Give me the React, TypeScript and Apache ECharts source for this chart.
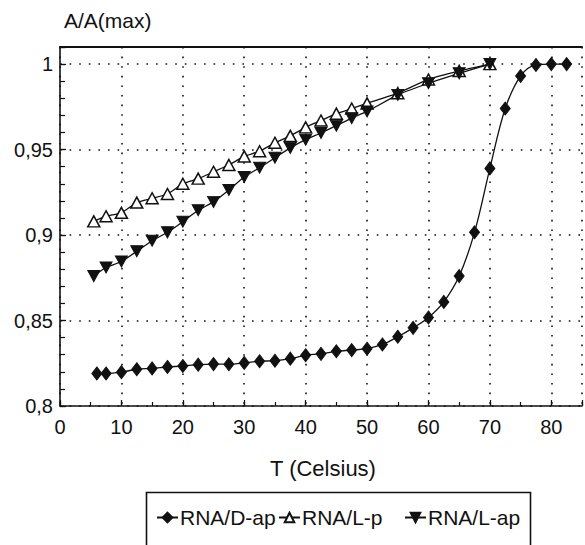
import React, { useEffect, useRef } from 'react';
import * as echarts from 'echarts';

// Temperatures (°C)
const T_DAP = [6, 7.5, 10, 12.5, 15, 17.5, 20, 22.5, 25, 27.5, 30, 32.5, 35, 37.5, 40, 42.5, 45, 47.5, 50, 52.5, 55, 57.5, 60, 62.5, 65, 67.5, 70, 72.5, 75, 77.5, 80, 82.5];
const A_DAP = [0.819, 0.819, 0.8198, 0.8215, 0.822, 0.8228, 0.8234, 0.8242, 0.8245, 0.8244, 0.8252, 0.8262, 0.8265, 0.8277, 0.8297, 0.8305, 0.832, 0.8327, 0.8335, 0.836, 0.8405, 0.8457, 0.8518, 0.8609, 0.876, 0.9016, 0.939, 0.974, 0.993, 0.9995, 1.0, 1.0];

const T_L = [5.5, 7.5, 10, 12.5, 15, 17.5, 20, 22.5, 25, 27.5, 30, 32.5, 35, 37.5, 40, 42.5, 45, 47.5, 50, 55, 60, 65, 70];
const A_LP = [0.908, 0.911, 0.913, 0.919, 0.9215, 0.924, 0.93, 0.933, 0.937, 0.941, 0.946, 0.949, 0.954, 0.958, 0.963, 0.967, 0.971, 0.974, 0.977, 0.983, 0.991, 0.996, 1.0];
const A_LAP = [0.876, 0.881, 0.8845, 0.8905, 0.8967, 0.9016, 0.9078, 0.9145, 0.9194, 0.9264, 0.934, 0.9394, 0.9452, 0.951, 0.9558, 0.9597, 0.964, 0.9684, 0.9723, 0.982, 0.9888, 0.9946, 1.0];

const NAMES = ['RNA/D-ap', 'RNA/L-p', 'RNA/L-ap'];
const Y_TITLE = 'A/A(max)';
const X_TITLE = 'T (Celsius)';

const FONT = '"Liberation Sans", Arial, Helvetica, sans-serif';
const INK = '#111';

const pairs = (xs: number[], ys: number[]) => xs.map((x, i) => [x, ys[i]]);

export default function App() {
  const ref = useRef<HTMLDivElement>(null);
  useEffect(() => {
    const chart = echarts.init(ref.current!, null, { renderer: 'svg' });
    const dotted = { color: INK, width: 1.6, type: [1.6, 8] as any };
    const legendBase = {
      top: 507,
      itemWidth: 21,
      itemHeight: 12,
      itemGap: 0,
      textStyle: { fontSize: 21, color: INK, fontFamily: FONT, padding: [0, 0, 0, -3] },
      padding: 0,
    };
    chart.setOption({
      animation: false,
      backgroundColor: '#fff',
      textStyle: { fontFamily: FONT },
      grid: { left: 60, right: -8, top: 47, bottom: 139 },
      xAxis: [
        {
          type: 'value', min: 0, max: 85, interval: 10, position: 'bottom',
          axisLine: { show: true, lineStyle: { color: INK, width: 1.6 } },
          axisTick: { show: true, inside: true, length: 6, lineStyle: { color: INK, width: 1.2 } },
          axisLabel: {
            fontSize: 20, color: INK, fontFamily: FONT, margin: 11,
            formatter: (v: number) => (v % 10 === 0 && v <= 80 ? String(v) : ''),
          },
          splitLine: { show: true, lineStyle: dotted },
        },
        {
          type: 'value', min: 0, max: 85, interval: 5, position: 'bottom',
          axisLine: { show: false },
          axisTick: { show: true, inside: true, length: 4, lineStyle: { color: INK, width: 1.2 } },
          axisLabel: { show: false },
          splitLine: { show: false },
        },
        {
          type: 'value', min: 0, max: 85, position: 'top',
          axisLine: { show: true, lineStyle: { color: INK, width: 2 } },
          axisTick: { show: false }, axisLabel: { show: false }, splitLine: { show: false },
        },
      ],
      yAxis: [
        {
          type: 'value', min: 0.8, max: 1.01, interval: 0.05, position: 'left',
          axisLine: { show: true, lineStyle: { color: INK, width: 1.6 } },
          axisTick: { show: true, inside: true, length: 6, lineStyle: { color: INK, width: 1.2 } },
          axisLabel: {
            fontSize: 20, color: INK, fontFamily: FONT, margin: 7,
            formatter: (v: number) => (v > 1.005 ? '' : String(+v.toFixed(2)).replace('.', ',')),
          },
          splitLine: { show: true, lineStyle: dotted },
        },
        {
          type: 'value', min: 0.8, max: 1.01, interval: 0.01, position: 'left',
          axisLine: { show: false },
          axisTick: { show: true, inside: true, length: 5, lineStyle: { color: INK, width: 1.2 } },
          axisLabel: { show: false }, splitLine: { show: false },
        },
      ],
      legend: [
        { ...legendBase, left: 156, data: [NAMES[0]] },
        { ...legendBase, left: 278, data: [NAMES[1]] },
        { ...legendBase, left: 404, data: [NAMES[2]] },
      ],
      graphic: [
        { type: 'text', left: 64, top: 10, style: { text: Y_TITLE, fontSize: 21, fill: INK, fontFamily: FONT } },
        { type: 'text', left: 270, top: 457, style: { text: X_TITLE, fontSize: 22, fill: INK, fontFamily: FONT } },
        {
          type: 'rect', left: 144, top: 490,
          shape: { width: 384, height: 80 },
          style: { fill: 'none', stroke: INK, lineWidth: 1.6 },
        },
      ],
      series: [
        {
          name: NAMES[0], type: 'line', data: pairs(T_DAP, A_DAP), smooth: 0.35,
          symbol: 'diamond', symbolSize: [10, 13],
          itemStyle: { color: INK, borderColor: INK, borderWidth: 1 },
          lineStyle: { color: INK, width: 1.3 }, z: 3,
        },
        {
          name: NAMES[1], type: 'line', data: pairs(T_L, A_LP), smooth: 0.2,
          symbol: 'triangle', symbolSize: [12, 11],
          itemStyle: { color: '#fff', borderColor: INK, borderWidth: 1.5 },
          lineStyle: { color: INK, width: 1.3 }, z: 3,
        },
        {
          name: NAMES[2], type: 'line', data: pairs(T_L, A_LAP), smooth: 0.2,
          symbol: 'path://M0,0L20,0L10,18Z', symbolSize: [12, 11],
          itemStyle: { color: INK, borderColor: INK, borderWidth: 1 },
          lineStyle: { color: INK, width: 1.3 }, z: 3,
        },
      ],
    });
    return () => chart.dispose();
  }, []);
  return (
    <div
      ref={ref}
      style={{ position: 'fixed', left: 0, top: 0, width: 585, height: 545, background: '#fff' }}
    />
  );
}
